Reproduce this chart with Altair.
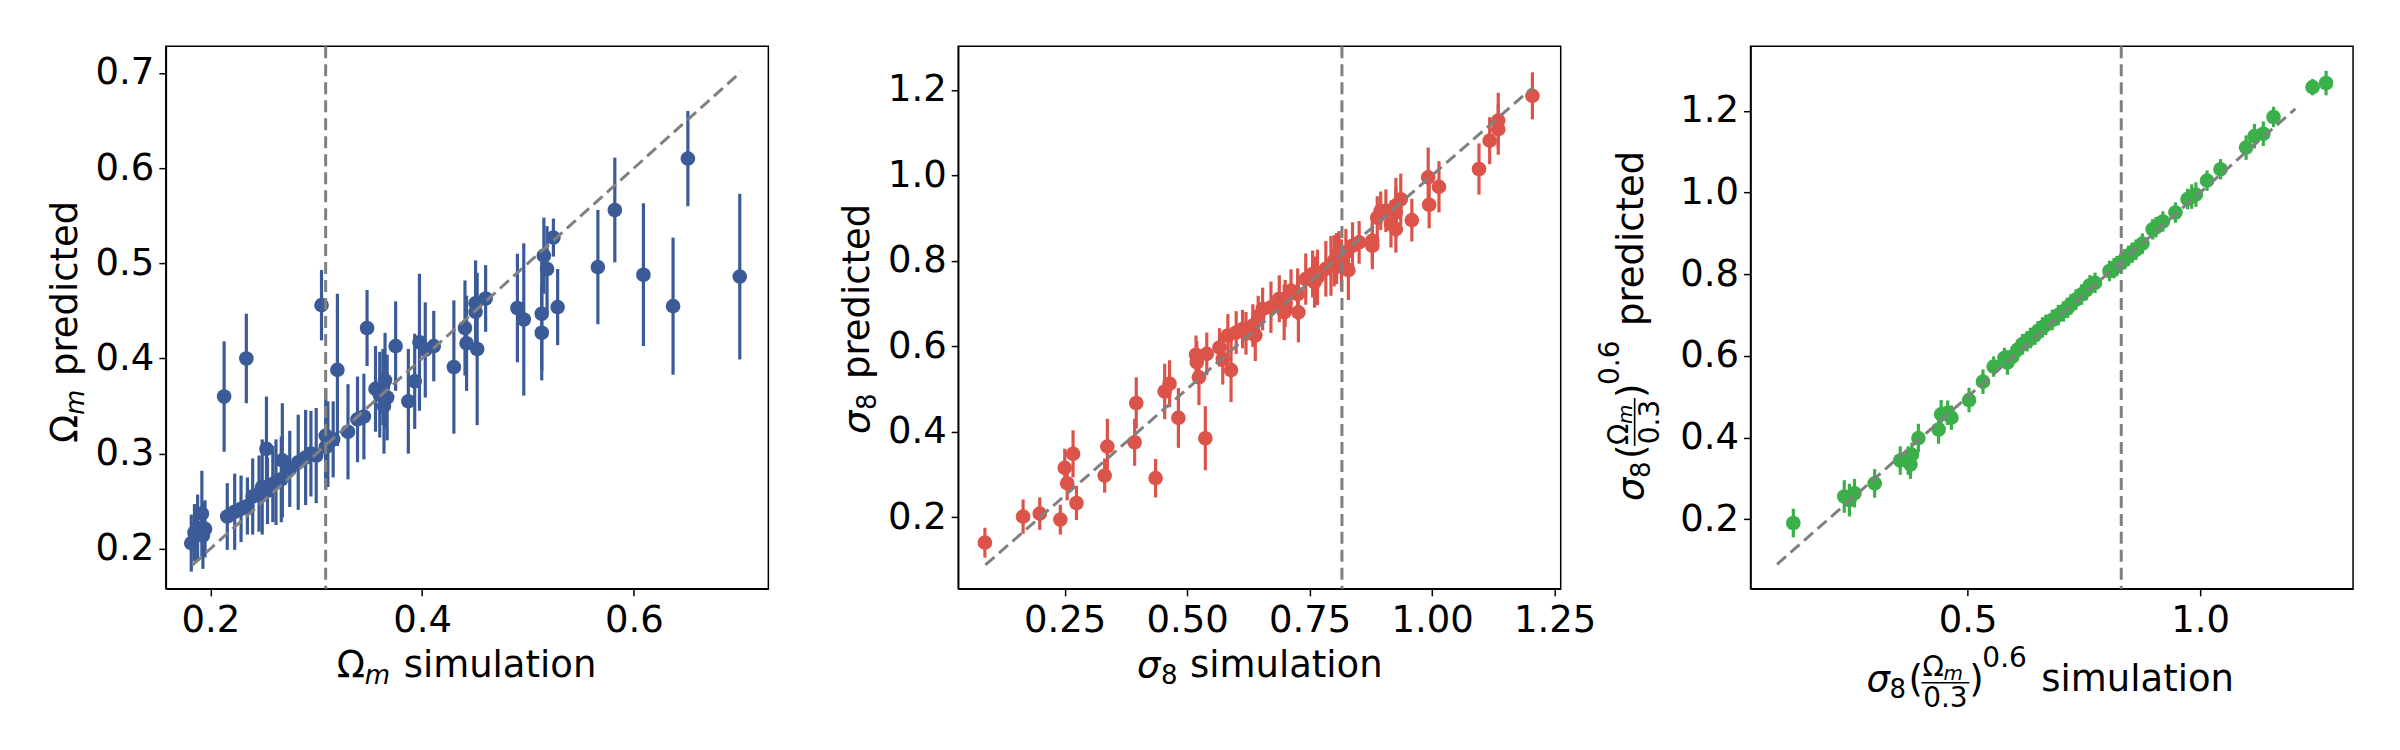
import altair as alt
import pandas as pd

# ---------------- data ----------------
# Panel 1: Omega_m
om_sim = [0.182,0.185,0.188,0.192,0.193,0.195,0.213,0.216,0.223,0.229,0.234,0.235,0.240,0.246,0.249,0.253,0.254,0.259,0.262,0.267,
          0.268,0.275,0.283,0.290,0.295,0.300,0.305,0.309,0.309,0.311,0.316,0.320,0.330,0.339,0.345,0.348,0.356,0.360,0.363,0.364,
          0.365,0.367,0.375,0.387,0.393,0.3975,0.403,0.411,0.430,0.4405,0.442,0.4505,0.4505,0.452,0.460,0.490,0.496,0.513,0.513,0.515,
          0.518,0.524,0.528,0.566,0.582,0.609,0.637,0.651,0.700]
om_pred = [0.206,0.217,0.222,0.237,0.214,0.221,0.360,0.234,0.239,0.242,0.400,0.245,0.255,0.258,0.265,0.305,0.261,0.268,0.270,0.273,
           0.293,0.284,0.291,0.296,0.300,0.298,0.456,0.319,0.307,0.310,0.315,0.388,0.323,0.336,0.339,0.432,0.368,0.362,0.370,0.350,
           0.377,0.359,0.413,0.355,0.376,0.417,0.409,0.413,0.391,0.432,0.416,0.458,0.449,0.410,0.463,0.453,0.441,0.447,0.427,0.508,
           0.494,0.527,0.454,0.496,0.556,0.488,0.455,0.610,0.486]
om_err = [0.030,0.030,0.035,0.045,0.035,0.030,0.058,0.035,0.040,0.035,0.047,0.030,0.040,0.040,0.050,0.055,0.035,0.040,0.045,0.045,
          0.060,0.040,0.050,0.050,0.045,0.050,0.037,0.050,0.045,0.045,0.040,0.080,0.050,0.045,0.045,0.040,0.045,0.045,0.040,0.050,
          0.050,0.045,0.047,0.055,0.050,0.072,0.050,0.037,0.070,0.050,0.050,0.045,0.040,0.080,0.035,0.057,0.080,0.060,0.050,0.040,
          0.045,0.020,0.040,0.060,0.055,0.075,0.072,0.050,0.087]

# Panel 2: sigma_8
s8_sim = [0.087,0.165,0.199,0.241,0.250,0.255,0.267,0.274,0.3315,0.337,0.3927,0.396,0.4355,0.454,0.464,0.482,0.518,0.5196,0.524,0.537,
          0.540,0.566,0.5726,0.583,0.5895,0.600,0.613,0.620,0.634,0.639,0.645,0.654,0.671,0.688,0.698,0.700,0.712,0.7255,0.727,0.742,
          0.756,0.760,0.766,0.783,0.7935,0.800,0.805,0.810,0.815,0.824,0.829,0.8375,0.851,0.878,0.878,0.888,0.895,0.9056,0.916,0.926,
          0.926,0.926,0.936,0.9586,0.992,0.994,1.014,1.0957,1.1175,1.135,1.135,1.2047]
s8_pred = [0.140,0.201,0.208,0.194,0.315,0.279,0.348,0.233,0.297,0.365,0.375,0.467,0.291,0.494,0.512,0.432,0.580,0.562,0.527,0.3845,
           0.582,0.597,0.570,0.625,0.544,0.632,0.640,0.630,0.648,0.625,0.668,0.687,0.691,0.711,0.679,0.700,0.730,0.722,0.679,0.757,
           0.769,0.750,0.761,0.781,0.788,0.800,0.805,0.8195,0.790,0.8195,0.778,0.835,0.843,0.847,0.835,0.901,0.917,0.917,0.886,0.929,
           0.913,0.874,0.944,0.895,0.995,0.931,0.973,1.0146,1.081,1.128,1.108,1.186]
s8_err = [0.035,0.040,0.038,0.035,0.045,0.040,0.055,0.040,0.040,0.065,0.055,0.060,0.045,0.065,0.055,0.070,0.045,0.050,0.065,0.075,
          0.050,0.045,0.060,0.050,0.075,0.050,0.045,0.050,0.050,0.060,0.050,0.050,0.060,0.055,0.065,0.055,0.050,0.060,0.070,0.060,
          0.055,0.060,0.065,0.065,0.070,0.060,0.060,0.050,0.060,0.055,0.070,0.055,0.050,0.050,0.055,0.050,0.045,0.050,0.055,0.065,
          0.060,0.055,0.060,0.050,0.070,0.055,0.060,0.060,0.055,0.065,0.060,0.055]

# Panel 3: S8-like combination
s8c_sim = [0.125,0.2346,0.2456,0.2566,0.300,0.355,0.372,0.377,0.380,0.394,0.4375,0.443,0.457,0.465,0.503,0.533,0.556,0.579,0.5855,0.596,
           0.607,0.618,0.628,0.635,0.645,0.651,0.661,0.668,0.682,0.695,0.706,0.715,0.722,0.733,0.745,0.755,0.763,0.774,0.805,0.815,
           0.821,0.830,0.838,0.846,0.854,0.862,0.876,0.898,0.905,0.920,0.947,0.973,0.982,0.991,1.015,1.044,1.099,1.117,1.136,1.158,
           1.242,1.271]
s8c_pred = [0.191,0.256,0.247,0.264,0.288,0.344,0.344,0.334,0.358,0.399,0.420,0.457,0.461,0.449,0.492,0.537,0.574,0.595,0.584,0.598,
            0.615,0.629,0.636,0.644,0.652,0.660,0.670,0.676,0.688,0.700,0.709,0.718,0.726,0.738,0.750,0.761,0.773,0.779,0.808,0.815,
            0.820,0.828,0.837,0.845,0.853,0.860,0.875,0.910,0.915,0.929,0.951,0.984,0.990,0.995,1.029,1.057,1.110,1.138,1.144,1.185,
            1.258,1.268]
s8c_err = [0.035,0.040,0.040,0.035,0.035,0.035,0.035,0.035,0.030,0.035,0.035,0.035,0.030,0.030,0.030,0.030,0.025,0.025,0.030,0.025,
           0.025,0.025,0.025,0.025,0.025,0.025,0.025,0.025,0.025,0.025,0.025,0.025,0.025,0.025,0.025,0.025,0.025,0.025,0.025,0.025,
           0.025,0.025,0.025,0.025,0.025,0.025,0.025,0.025,0.025,0.025,0.025,0.025,0.030,0.030,0.025,0.025,0.030,0.030,0.030,0.025,
           0.020,0.030]

fiducial = [0.3089, 0.8159, 0.8304]
diag_1 = [0.183, 0.701]
diag_2 = [0.088, 1.206]
diag_3 = [0.090, 1.205]

x_dom = [[0.158, 0.727], [0.0325, 1.2625], [0.033, 1.329]]
y_dom = [[0.158, 0.728], [0.032, 1.302], [0.030, 1.358]]
x_ticks = [[0.2, 0.4, 0.6], [0.25, 0.5, 0.75, 1.0, 1.25], [0.5, 1.0]]
y_ticks = [[0.2, 0.3, 0.4, 0.5, 0.6, 0.7], [0.2, 0.4, 0.6, 0.8, 1.0, 1.2], [0.2, 0.4, 0.6, 0.8, 1.0, 1.2]]
x_fmt = [".1f", ".2f", ".1f"]

colors = ["#3b5b98", "#dc5349", "#3bb04a"]

W, H = 603, 543
FONT = "DejaVu Sans"


def txt(text, x, y, size, italic=False, angle=0, align="left"):
    kw = dict(font=FONT, fontSize=size, align=align, baseline="alphabetic", color="black")
    if italic:
        kw["fontStyle"] = "italic"
    if angle:
        kw["angle"] = angle
    return alt.Chart(pd.DataFrame({"t": [text]})).mark_text(**kw).encode(
        x=alt.value(x), y=alt.value(y), text="t:N")


def hbar(x1, x2, y):
    return alt.Chart(pd.DataFrame({"t": [0]})).mark_rule(color="black", strokeWidth=1.6).encode(
        x=alt.value(x1), x2=alt.value(x2), y=alt.value(y))


def vbar(x, y1, y2):
    return alt.Chart(pd.DataFrame({"t": [0]})).mark_rule(color="black", strokeWidth=1.6).encode(
        x=alt.value(x), y=alt.value(y1), y2=alt.value(y2))


def panel(i, sim, pred, err, diag, titles, extra=None):
    df = pd.DataFrame({"x": sim, "y": pred,
                       "lo": [p - e for p, e in zip(pred, err)],
                       "hi": [p + e for p, e in zip(pred, err)]})
    xs = alt.Scale(domain=x_dom[i], nice=False, zero=False)
    ys = alt.Scale(domain=y_dom[i], nice=False, zero=False)
    xax = alt.Axis(values=x_ticks[i], format=x_fmt[i], title=None)
    yax = alt.Axis(values=y_ticks[i], format=".1f", title=None)
    base = alt.Chart(df)
    bars = base.mark_rule(color=colors[i], strokeWidth=3.2).encode(
        x=alt.X("x:Q", scale=xs, axis=xax),
        y=alt.Y("lo:Q", scale=ys, axis=yax), y2="hi:Q")
    pts = base.mark_circle(color=colors[i], size=215, opacity=1).encode(
        x=alt.X("x:Q", scale=xs, axis=xax), y=alt.Y("y:Q", scale=ys, axis=yax))
    dline = alt.Chart(pd.DataFrame({"d": diag})).mark_line(
        color="gray", strokeDash=[12, 6], strokeWidth=3).encode(
        x=alt.X("d:Q", scale=xs, axis=xax), y=alt.Y("d:Q", scale=ys, axis=yax))
    vline = alt.Chart(pd.DataFrame({"v": [fiducial[i]]})).mark_rule(
        color="gray", strokeDash=[12, 6], strokeWidth=3).encode(
        x=alt.X("v:Q", scale=xs, axis=xax))
    layers = [bars, pts, dline, vline] + titles
    if extra is not None:
        layers.append(extra)
    return alt.layer(*layers).properties(width=W, height=H)


# titles for panel 1
t1 = [
    txt("Ω", 171, 631, 37), txt("m", 199, 638, 26, italic=True), txt("simulation", 238, 631, 37),
    txt("Ω", -89, 397, 37, angle=270), txt("m", -82, 369, 26, italic=True, angle=270),
    txt("predicted", -89, 330, 37, angle=270),
]
# titles for panel 2
t2 = [
    txt("σ", 179, 631, 37, italic=True), txt("8", 203, 638, 26), txt("simulation", 232, 631, 37),
    txt("σ", -89, 388, 37, italic=True, angle=270), txt("8", -82, 364, 26, angle=270),
    txt("predicted", -89, 333, 37, angle=270),
]
# titles for panel 3 (composite with fraction)
B, S = 645, 116
t3 = [
    txt("σ", S, B, 37, italic=True), txt("8", S + 23, B + 7, 26), txt("(", S + 42, B, 37),
    txt("Ω", S + 56, B - 15, 28), txt("m", S + 77, B - 11, 20, italic=True),
    hbar(S + 55, S + 103, B - 8),
    txt("0.3", S + 79, B + 16, 28, align="center"),
    txt(")", S + 103, B, 37), txt("0.6", S + 116, B - 24, 28),
    txt("simulation", S + 175, B, 37),
]
P, SY = -108, 455
t3 += [
    txt("σ", P, SY, 37, italic=True, angle=270), txt("8", P + 7, SY - 23, 26, angle=270),
    txt("(", P, SY - 42, 37, angle=270),
    txt("Ω", P - 15, SY - 56, 28, angle=270), txt("m", P - 11, SY - 77, 20, italic=True, angle=270),
    vbar(P - 8, SY - 55, SY - 103),
    txt("0.3", P + 16, SY - 79, 28, angle=270, align="center"),
    txt(")", P, SY - 103, 37, angle=270), txt("0.6", P - 24, SY - 116, 28, angle=270),
    txt("predicted", P, SY - 175, 37, angle=270),
]

# invisible anchor fixing the overall canvas (2400 x 750) relative to panel 1
anchor = alt.Chart(pd.DataFrame({"t": [0]})).mark_rule(opacity=0, strokeOpacity=0).encode(
    x=alt.value(-165), x2=alt.value(2235), y=alt.value(-45), y2=alt.value(705))

p1 = panel(0, om_sim, om_pred, om_err, diag_1, t1, extra=anchor)
p2 = panel(1, s8_sim, s8_pred, s8_err, diag_2, t2)
p3 = panel(2, s8c_sim, s8c_pred, s8c_err, diag_3, t3)

chart = alt.hconcat(p1, p2, p3, spacing=190, bounds="flush").properties(
    padding=0, autosize=alt.AutoSizeParams(type="pad")
).configure_view(
    stroke="black", strokeWidth=1.5
).configure_axis(
    grid=False, labelFont=FONT, labelFontSize=37, labelColor="black",
    domainColor="black", domainWidth=1.5, tickColor="black", tickWidth=1.5,
    tickSize=7, labelPadding=6
).configure_axisX(labelPadding=7).configure_axisY(labelPadding=5)

chart.save("out.html", embed_options={"renderer": "svg", "actions": False})
